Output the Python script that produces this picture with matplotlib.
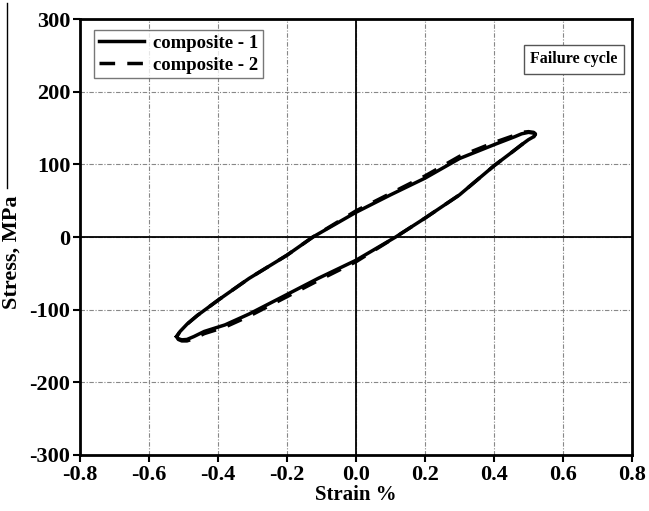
import matplotlib.pyplot as plt
from matplotlib.lines import Line2D

plt.rcParams['font.family'] = ['Liberation Serif', 'DejaVu Serif']
plt.rcParams['font.weight'] = 'bold'
plt.rcParams['axes.unicode_minus'] = False

# failure cycle, composite 1 (lower branch out, upper branch back)
strain_1 = [-0.52, -0.515, -0.505, -0.49, -0.47, -0.44, -0.38, -0.31, -0.22,
            -0.11, 0.0, 0.115, 0.2, 0.3, 0.4, 0.45, 0.48, 0.50, 0.515, 0.52,
            0.515, 0.50, 0.48, 0.46, 0.40, 0.30, 0.20, 0.10, 0.0, -0.125,
            -0.2, -0.31, -0.40, -0.46, -0.49, -0.51, -0.52]
stress_1 = [-137, -140, -141.5, -141, -137, -130, -121, -106, -84,
            -57, -32, 0, 26, 58, 98, 116, 127, 134, 138, 141,
            143, 144, 142, 138, 127, 108, 81, 58, 34, 0,
            -25, -57, -87, -108, -120, -130, -137]

# composite 2 runs almost on top of composite 1
strain_2 = [-0.52, -0.515, -0.505, -0.49, -0.47, -0.44, -0.38, -0.31, -0.22,
            -0.11, 0.0, 0.115, 0.2, 0.3, 0.4, 0.45, 0.48, 0.50, 0.515, 0.52,
            0.515, 0.50, 0.48, 0.46, 0.40, 0.30, 0.20, 0.10, 0.0, -0.125,
            -0.2, -0.31, -0.40, -0.46, -0.49, -0.51, -0.52]
stress_2 = [-137, -141, -143, -143, -140, -133, -124, -109, -87,
            -60, -34, 0, 26, 58, 98, 116, 127, 134, 138, 142,
            144, 145, 144, 140, 130, 111, 84, 60, 36, 0,
            -25, -57, -87, -108, -120, -130, -137]

x_ticks = [-0.8, -0.6, -0.4, -0.2, 0.0, 0.2, 0.4, 0.6, 0.8]
y_ticks = [-300, -200, -100, 0, 100, 200, 300]

fig = plt.figure(figsize=(6.49, 5.11), dpi=100)
ax = fig.add_axes([0.1233, 0.1096, 0.8505, 0.8532])

ax.plot(strain_1, stress_1, color='black', lw=2.5, label='composite - 1')
ax.plot(strain_2, stress_2, color='black', lw=2.5, dashes=(4.5, 3.5),
        label='composite - 2')

ax.axhline(0, color='black', lw=1.3, zorder=1)
ax.axvline(0, color='black', lw=1.3, zorder=1)

ax.set_xlim(-0.8, 0.8)
ax.set_ylim(-300, 300)
ax.set_xticks(x_ticks)
ax.set_yticks(y_ticks)
ax.set_xticklabels(['%.1f' % v for v in x_ticks])
ax.grid(True, color='#888888', lw=0.8, linestyle=(0, (4, 1.5, 1, 1.5)))
ax.set_axisbelow(True)

ax.tick_params(direction='out', length=5, width=1.5, labelsize=16,
               top=False, right=False, pad=2)
for lab in ax.get_xticklabels() + ax.get_yticklabels():
    lab.set_fontweight('bold')
for s in ax.spines.values():
    s.set_linewidth(2)

ax.set_xlabel('Strain %', fontsize=15, fontweight='bold', labelpad=0)
ax.set_ylabel('Stress, MPa', fontsize=16, fontweight='bold')
ax.yaxis.set_label_coords(-0.106, 0.465)

leg = ax.legend(loc='upper left', bbox_to_anchor=(0.026, 0.975),
                prop={'size': 13.5, 'weight': 'bold'}, fancybox=False,
                handlelength=2.4, borderpad=0.25, labelspacing=0.25,
                handletextpad=0.5, borderaxespad=0)
leg.get_frame().set_edgecolor('#555555')
leg.get_frame().set_linewidth(1)

ax.text(0.895, 0.908, 'Failure cycle', transform=ax.transAxes,
        ha='center', va='center', fontsize=11.5, fontweight='bold',
        bbox=dict(boxstyle='square,pad=0.4', fc='white', ec='#555555',
                  lw=1))

fig.add_artist(Line2D([0.0115, 0.0115], [0.994, 0.632], color='black',
                      lw=1, transform=fig.transFigure))

fig.savefig('out.png', dpi=100)
